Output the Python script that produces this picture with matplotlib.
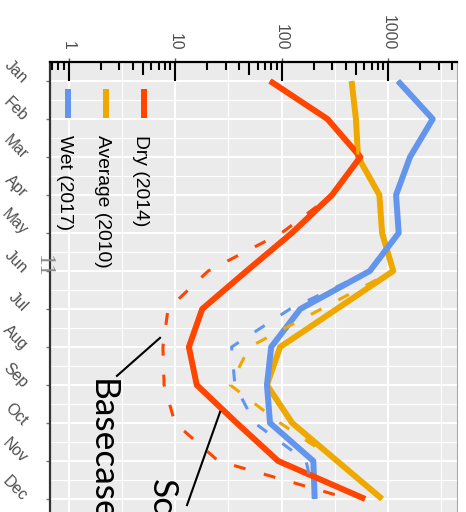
import numpy as np
import matplotlib
matplotlib.use("Agg")
import matplotlib.pyplot as plt
from matplotlib.ticker import FixedLocator
from matplotlib.transforms import blended_transform_factory

plt.rcParams['font.family'] = ['Liberation Sans', 'DejaVu Sans']
plt.rcParams['lines.scale_dashes'] = False

# ---- data -------------------------------------------------------------
months = ['Jan', 'Feb', 'Mar', 'Apr', 'May', 'Jun',
          'Jul', 'Aug', 'Sep', 'Oct', 'Nov', 'Dec']

# Scenario runs (solid)
dry_scenario = [78, 270, 550, 298, 125, 47, 18, 13.5, 16, 38, 93, 610]
avg_scenario = [455, 500, 523, 830, 880, 1120, 330, 97, 73, 126, 333, 880]
wet_scenario = [1240, 2630, 1610, 1190, 1260, 675, 150, 80, 73, 78, 199, 205]

# Basecase runs (dashed)
dry_base = [78, 270, 550, 298, 100, 20.5, 8.6, 7.7, 7.9, 10, 25.5, 440]
avg_base = [455, 500, 523, 830, 880, 1120, 236, 50, 33, 97, 333, 880]
wet_base = [1240, 2630, 1610, 1190, 1260, 675, 120, 34, 36.5, 56, 170, 205]

series_labels = ['Dry (2014)', 'Average (2010)', 'Wet (2017)']
value_ticks = [1, 10, 100, 1000]
value_tick_labels = ['1', '10', '100', '1000']

# ---- style ------------------------------------------------------------
RED = '#FF4500'
ORANGE = '#EEA800'
BLUE = '#6495ED'
GRAY_TXT = '#4D4D4D'

W, H = 466, 512
fig = plt.figure(figsize=(W / 100, H / 100), dpi=100)
fig.patch.set_facecolor('white')

# panel geometry in pixels
PL, PR, PT, PB = 50, 457, 62, 518
ax = fig.add_axes([PL / W, 1 - PB / H, (PR - PL) / W, (PB - PT) / H])
ax.set_facecolor('#EBEBEB')

DEC = 106.5          # pixels per decade
X1 = 68.5            # pixel position of value 1
ax.set_xscale('log')
ax.set_xlim(10 ** ((PL - X1) / DEC), 10 ** ((PR - X1) / DEC))
ax.set_ylim(len(months) - 0.5, -0.5)

ypos = np.arange(len(months))

# grid
for v in value_ticks:
    ax.axvline(v, color='white', lw=1.4, zorder=0.5)
for k in range(0, 4):
    ax.axvline(10 ** (k + 0.5), color='white', lw=0.8, zorder=0.5)
for y in ypos:
    ax.axhline(y, color='white', lw=1.4, zorder=0.5)
for y in ypos[:-1] + 0.5:
    ax.axhline(y, color='white', lw=0.8, zorder=0.5)

# lines
solid_kw = dict(lw=4.3, solid_joinstyle='round', solid_capstyle='butt', zorder=3)
dash_kw = dict(lw=2.2, ls=(0, (8.6, 13.7)), dash_capstyle='butt', zorder=4)
ax.plot(avg_scenario, ypos, color=ORANGE, **solid_kw)
ax.plot(wet_scenario, ypos, color=BLUE, **solid_kw)
ax.plot(dry_scenario, ypos, color=RED, **solid_kw)
ax.plot(avg_base, ypos, color=ORANGE, **dash_kw)
ax.plot(wet_base, ypos, color=BLUE, **dash_kw)
ax.plot(dry_base, ypos, color=RED, **dash_kw)

# axes: values on top, months on left
ax.xaxis.tick_top()
ax.xaxis.set_major_locator(FixedLocator(value_ticks))
ax.xaxis.set_minor_locator(FixedLocator([]))
ax.set_xticklabels(value_tick_labels, rotation=-90, color=GRAY_TXT, fontsize=11.3)
ax.tick_params(axis='x', which='major', direction='out', length=3, width=1,
               color='#555555', pad=5.5)
ax.set_yticks(ypos)
ax.set_yticklabels(months, rotation=-45, color=GRAY_TXT, fontsize=11.3,
                   ha='right', va='center', rotation_mode='anchor')
ax.tick_params(axis='y', direction='out', length=3, width=1, color='#777777', pad=15)

ax.spines['bottom'].set_visible(False)
ax.spines['left'].set_color('#333333')
ax.spines['left'].set_linewidth(1.6)
ax.spines['top'].set_color('black')
ax.spines['top'].set_linewidth(1.6)
ax.spines['right'].set_color('#AAAAAA')
ax.spines['right'].set_linewidth(0.8)

# log ticks inside the top edge
bt = blended_transform_factory(ax.transData, ax.transAxes)
ph = PB - PT
xmin, xmax = ax.get_xlim()
for e in range(-1, 4):
    for m in range(1, 10):
        v = m * 10.0 ** e
        if v < xmin or v > xmax:
            continue
        if m == 1:
            L = 18.7
        elif m == 5:
            L = 12.7
        else:
            L = 7.7
        ax.plot([v, v], [1, 1 - L / ph], transform=bt, color='black',
                lw=1.5, solid_capstyle='butt', zorder=6, clip_on=False)

# legend drawn as vertical keys with rotated labels
def axfrac(px, py):
    return (px - PL) / (PR - PL), 1 - (py - PT) / ph

legend_x = [143.5, 105.5, 67.5]
for lab, col, kx in zip(series_labels, [RED, ORANGE, BLUE], legend_x):
    x0, y0 = axfrac(kx, 89)
    _, y1 = axfrac(kx, 118)
    ax.plot([x0, x0], [y0, y1], transform=ax.transAxes, color=col, lw=4.3,
            solid_capstyle='butt', zorder=7)
    tx, ty = axfrac(kx - 3.5, 135)
    ax.text(tx, ty, lab, transform=ax.transAxes, rotation=-90,
            ha='center', va='top', fontsize=13.9, color='black', zorder=7)

# annotations
ann_font = ['Lato', 'DejaVu Sans']
ax.plot([2.85, 7.23], [7.76, 6.76], color='black', lw=1.5, zorder=8)
ax.text(1.66, 7.84, 'Basecase', rotation=-90, rotation_mode='anchor',
        ha='left', va='baseline', fontsize=25.5, family=ann_font, zorder=8)
ax.plot([12.97, 26.5], [11.16, 8.71], color='black', lw=1.5, zorder=8)
ax.text(6.08, 10.47, 'Scenario', rotation=-90, rotation_mode='anchor',
        ha='left', va='baseline', fontsize=25.5, family=ann_font, zorder=8,
        clip_on=False)

fig.text(43.5 / W, 1 - 266 / H, '11', rotation=-90, ha='center', va='center',
         fontsize=17, color='#8C8C8C', family=['Liberation Serif', 'DejaVu Serif'])

fig.savefig('out.png', dpi=100)
